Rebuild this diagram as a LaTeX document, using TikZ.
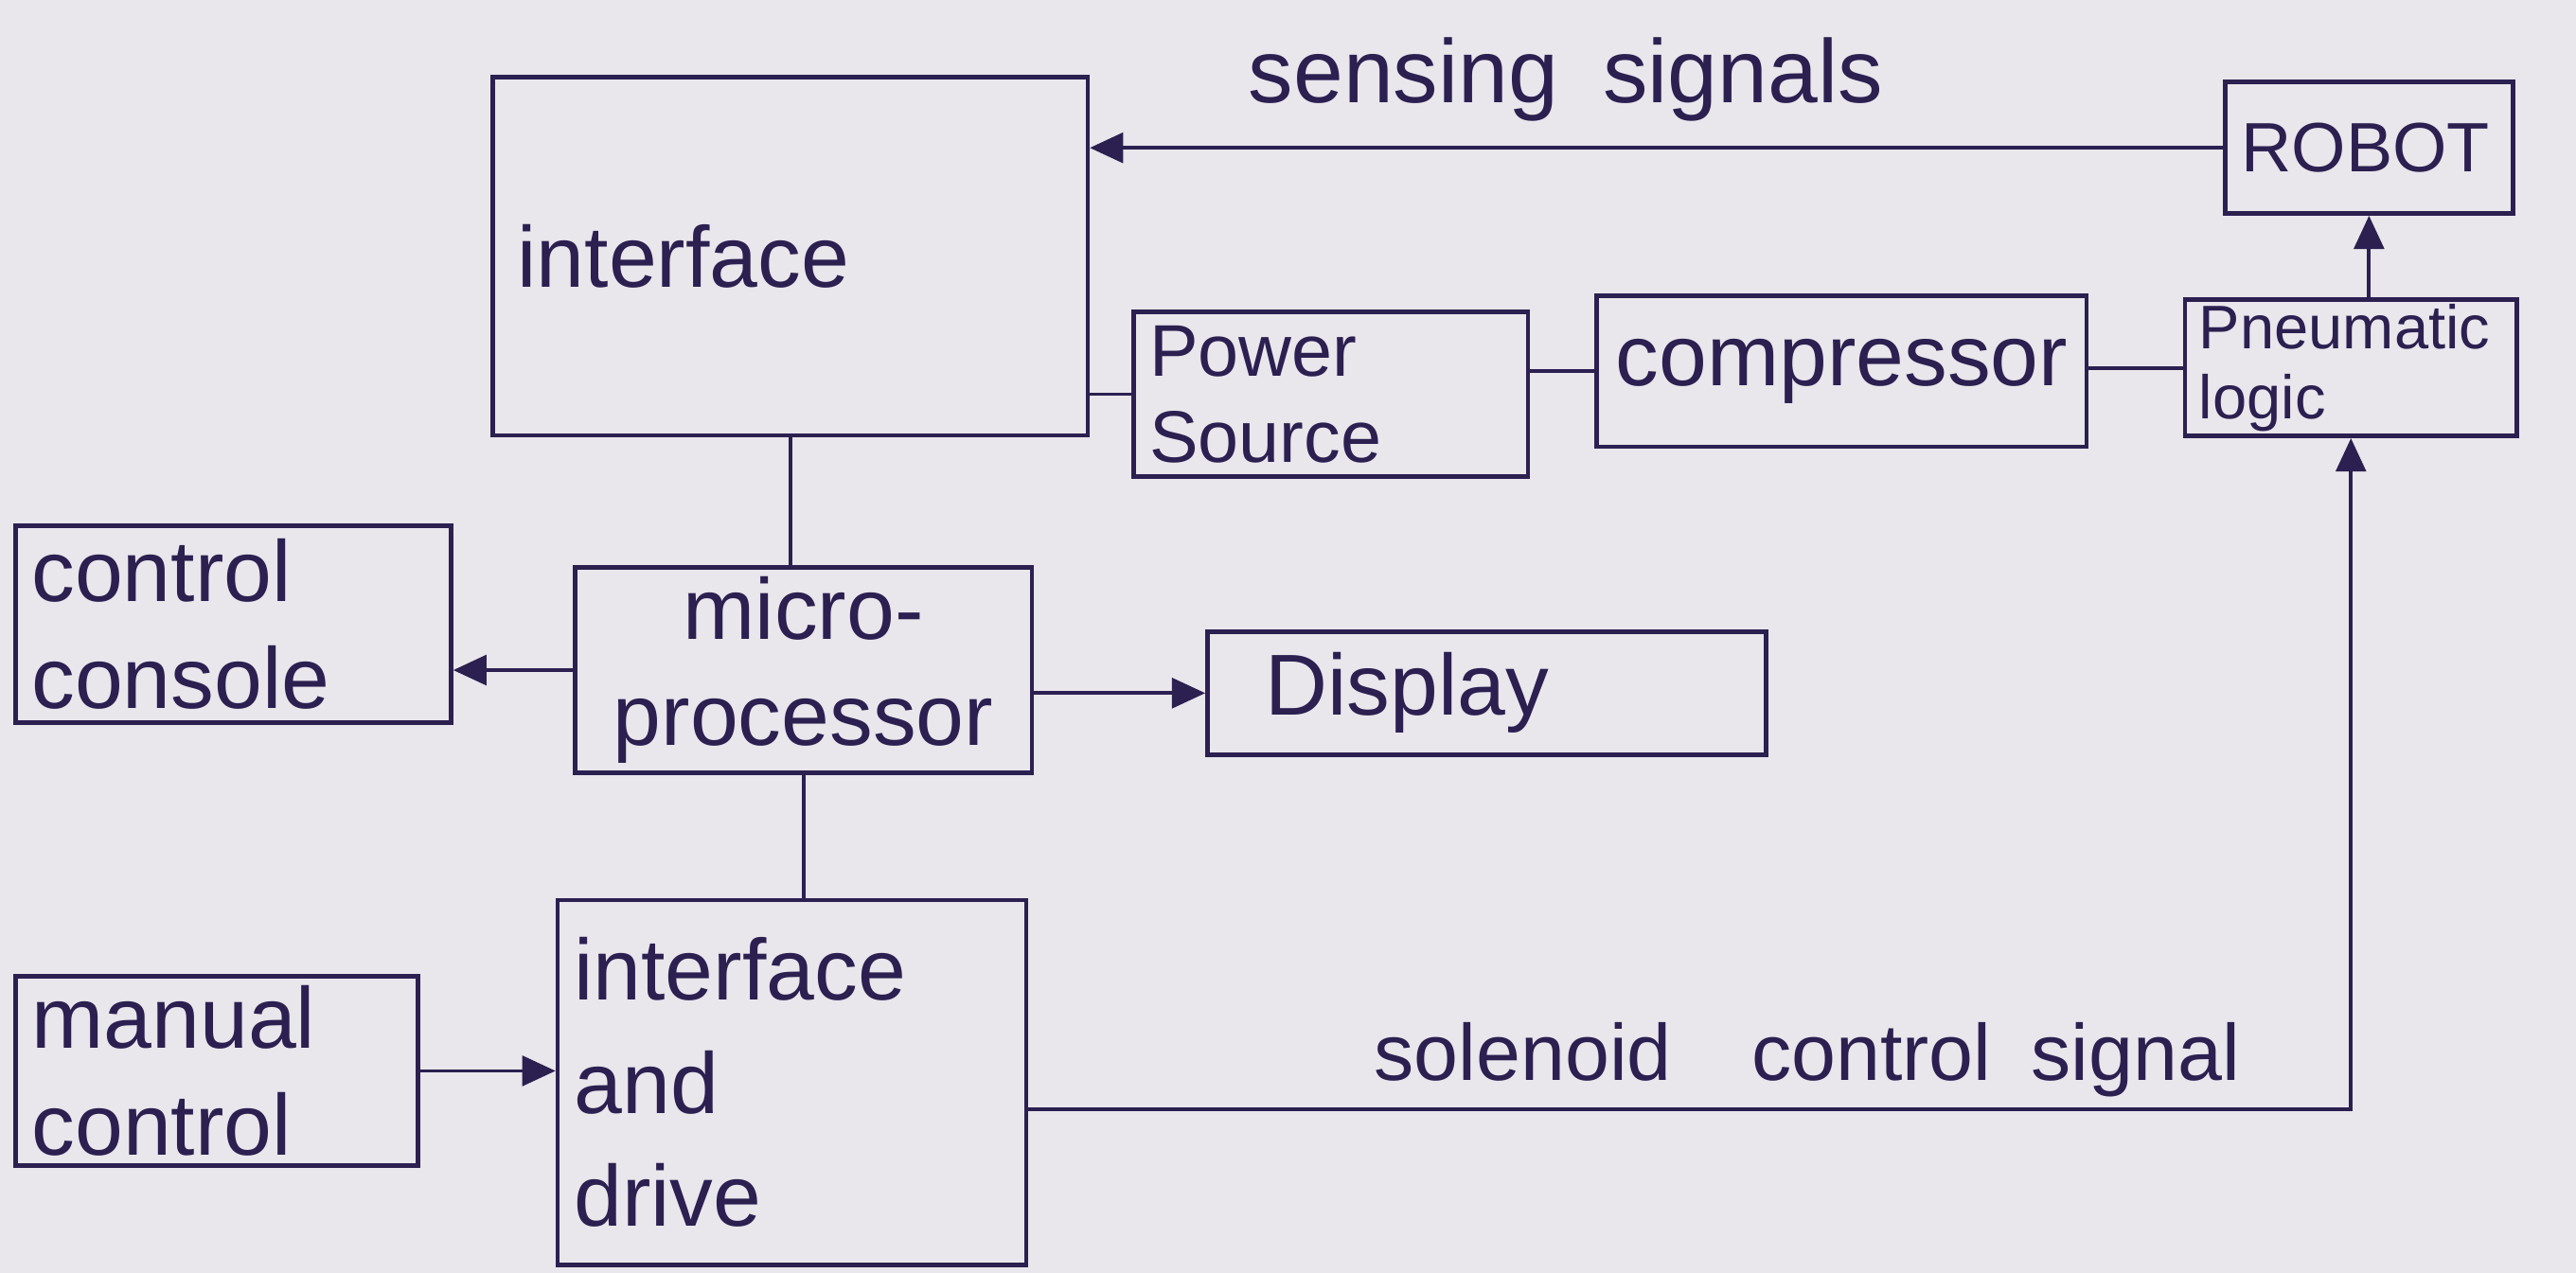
\documentclass[tikz,border=0pt]{standalone}
\usepackage{fontspec}
\setmainfont{Liberation Sans}
\usetikzlibrary{arrows.meta}
\definecolor{paper}{HTML}{E9E6EC}
\definecolor{ink}{HTML}{2B2050}
\begin{document}
\begin{tikzpicture}[x=0.017353cm,y=-0.017353cm,
  box/.style={draw=ink, line width=1.3pt, text=ink, inner ysep=0pt, font=\fontsize{26}{32}\selectfont},
  lbox/.style={box, align=left},
  cbox/.style={box, align=center},
  wire/.style={draw=ink, line width=1.1pt},
  arr/.style={wire, -{Triangle[length=10pt,width=9pt]}},
  lbl/.style={text=ink, font=\fontsize{27}{32}\selectfont}]
\fill[paper] (0,0) rectangle (1568,775);
\useasboundingbox (0,0) rectangle (1568,775);

\node[lbox, inner xsep=0.26cm, text width=5.76cm, minimum width=6.282cm, minimum height=3.783cm] (iface) at (481,156) {interface};
\node[lbox, inner xsep=0.17cm, text width=2.70cm, minimum width=3.037cm, minimum height=1.388cm, font=\fontsize{21}{26}\selectfont] (robot) at (1442,90) {ROBOT};
\node[lbox, inner xsep=0.17cm, text width=3.825cm, minimum width=4.165cm, minimum height=1.735cm, font=\fontsize{22}{26}\selectfont] (power) at (810,240) {Power\\Source};
\node[cbox, inner xsep=0.2cm, text width=4.77cm, minimum width=5.171cm, minimum height=1.596cm] (comp) at (1121,226) {compressor};
\node[lbox, inner xsep=0.15cm, text width=3.205cm, minimum width=3.505cm, minimum height=1.440cm, font=\fontsize{18.5}{21}\selectfont] (pneu) at (1431,224) {Pneumatic\\logic};
\node[lbox, inner xsep=0.17cm, text width=4.26cm, minimum width=4.599cm, minimum height=2.082cm] (console) at (142,380) {control\\console};
\node[cbox, inner xsep=0.1cm, text width=4.62cm, minimum width=4.824cm, minimum height=2.169cm] (micro) at (489,408) {micro-\\processor};
\node[lbox, inner xsep=0.61cm, text width=4.68cm, minimum width=5.900cm, minimum height=1.301cm] (display) at (905,422) {Display};
\node[lbox, inner xsep=0.17cm, text width=3.91cm, minimum width=4.251cm, minimum height=1.996cm] (manual) at (132,652) {manual\\control};
\node[lbox, inner xsep=0.17cm, text width=4.6cm, minimum width=4.946cm, minimum height=3.852cm, font=\fontsize{26}{34}\selectfont] (drive) at (482,659) {interface\\and\\drive};

\draw[arr] (robot.west) -- (robot.west -| iface.east)
  node[lbl, pos=0.58, above=4pt] (sens) {sensing\enspace signals};
\draw[arr] (pneu.north -| robot.south) -- (robot.south);
\draw[wire] (power.west) -- (power.west -| iface.east);
\draw[wire] (comp.west) -- (comp.west -| power.east);
\draw[wire] (pneu.west) -- (pneu.west -| comp.east);
\draw[wire] (iface.south) -- (iface.south |- micro.north);
\draw[arr] (micro.west) -- (micro.west -| console.east);
\draw[arr] (display.west -| micro.east) -- (display.west);
\draw[wire] (micro.south) -- (micro.south |- drive.north);
\draw[arr] (manual.east) -- (manual.east -| drive.west);
\draw[arr] ([yshift=-8pt]drive.east) -| (pneu.south);
\node[lbl, font=\fontsize{24}{28}\selectfont] (sol) at (1100,645) {solenoid\quad control\enspace signal};
\end{tikzpicture}
\end{document}
